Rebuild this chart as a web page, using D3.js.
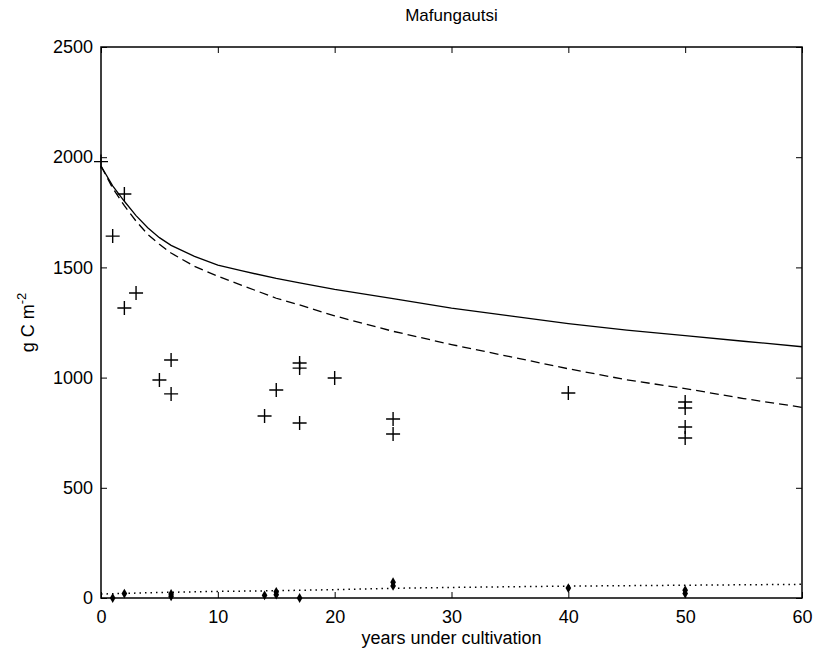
<!DOCTYPE html>
<html>
<head>
<meta charset="utf-8">
<script src="https://cdn.jsdelivr.net/npm/d3@7"></script>
<style>
  body { margin: 0; background: #fff; }
  text { font-family: "Liberation Sans", Arial, sans-serif; fill: #000; }
</style>
</head>
<body>
<div id="chart"></div>
<script>
// observed soil C (crosses)
const obsYears = [0, 1, 2, 2, 3, 5, 6, 6, 14, 15, 17, 17, 17, 20, 25, 25, 40, 50, 50, 50, 50];
const obsCarbon = [1980, 1642, 1833, 1316, 1384, 989, 1080, 926, 826, 944, 1066, 1043, 794, 998, 812, 744, 930, 889, 862, 776, 726];

// small filled markers near the bottom
const dotYears = [1, 2, 6, 6, 14, 15, 15, 17, 25, 25, 40, 50, 50];
const dotCarbon = [0, 20, 8, 18, 12, 15, 28, 0, 55, 72, 45, 20, 35];

// model curves
const modelYears = [0, 1, 2, 3, 4, 5, 6, 8, 10, 12, 15, 17, 20, 25, 30, 35, 40, 45, 50, 55, 60];
const solidCarbon = [1960, 1870, 1800, 1735, 1680, 1635, 1600, 1550, 1510, 1485, 1450, 1430, 1400, 1358, 1315, 1280, 1245, 1215, 1190, 1165, 1140];
const dashedCarbon = [1960, 1860, 1780, 1710, 1650, 1605, 1565, 1505, 1460, 1420, 1360, 1330, 1280, 1210, 1150, 1095, 1040, 990, 950, 905, 865];

const dottedYears = [0, 5, 10, 15, 20, 25, 30, 40, 50, 60];
const dottedCarbon = [18, 25, 30, 33, 38, 44, 48, 54, 58, 62];

const xTicks = [0, 10, 20, 30, 40, 50, 60];
const yTicks = [0, 500, 1000, 1500, 2000, 2500];

const width = 815, height = 656;
const margin = { top: 47, right: 13, bottom: 58, left: 101 };
const innerW = width - margin.left - margin.right;
const innerH = height - margin.top - margin.bottom;
const fontSize = 18;

const svg = d3.select('#chart').append('svg')
    .attr('width', width)
    .attr('height', height);

const plot = svg.append('g')
    .attr('transform', `translate(${margin.left},${margin.top})`);

const xScale = d3.scaleLinear().domain([0, 60]).range([0, innerW]);
const yScale = d3.scaleLinear().domain([0, 2500]).range([innerH, 0]);

// axes, matlab style: ticks pointing inward on all four sides
const tickLen = 6;
const fmt = d3.format('d');
plot.append('g')
    .attr('transform', `translate(0,${innerH})`)
    .call(d3.axisBottom(xScale).tickValues(xTicks).tickFormat(fmt).tickSizeInner(-tickLen).tickSizeOuter(0).tickPadding(12))
    .call(g => g.select('.domain').remove());
plot.append('g')
    .call(d3.axisTop(xScale).tickValues(xTicks).tickSizeInner(-tickLen).tickSizeOuter(0).tickFormat(''))
    .call(g => g.select('.domain').remove());
plot.append('g')
    .call(d3.axisLeft(yScale).tickValues(yTicks).tickFormat(fmt).tickSizeInner(-tickLen).tickSizeOuter(0).tickPadding(8))
    .call(g => g.select('.domain').remove());
plot.append('g')
    .attr('transform', `translate(${innerW},0)`)
    .call(d3.axisRight(yScale).tickValues(yTicks).tickSizeInner(-tickLen).tickSizeOuter(0).tickFormat(''))
    .call(g => g.select('.domain').remove());

plot.selectAll('.tick line').attr('stroke', '#000').attr('stroke-width', 1);
plot.selectAll('.tick text')
    .style('font-size', `${fontSize}px`)
    .style('font-family', '"Liberation Sans", Arial, sans-serif')
    .attr('fill', '#000');

plot.append('rect')
    .attr('width', innerW)
    .attr('height', innerH)
    .attr('fill', 'none')
    .attr('stroke', '#000')
    .attr('stroke-width', 1.5);

// lines
const line = d3.line()
    .x(d => xScale(d[0]))
    .y(d => yScale(d[1]));

plot.append('path')
    .datum(d3.zip(modelYears, solidCarbon))
    .attr('fill', 'none')
    .attr('stroke', '#000')
    .attr('stroke-width', 1.3)
    .attr('d', line);

plot.append('path')
    .datum(d3.zip(modelYears, dashedCarbon))
    .attr('fill', 'none')
    .attr('stroke', '#000')
    .attr('stroke-width', 1.3)
    .attr('stroke-dasharray', '9,5')
    .attr('d', line);

plot.append('path')
    .datum(d3.zip(dottedYears, dottedCarbon))
    .attr('fill', 'none')
    .attr('stroke', '#000')
    .attr('stroke-width', 1.5)
    .attr('stroke-dasharray', '1.5,4')
    .attr('d', line);

// crosses
plot.selectAll('.obs')
    .data(d3.zip(obsYears, obsCarbon))
    .enter()
    .append('path')
    .attr('class', 'obs')
    .attr('transform', d => `translate(${xScale(d[0])},${yScale(d[1])})`)
    .attr('d', 'M-7,0H7M0,-7V7')
    .attr('stroke', '#000')
    .attr('stroke-width', 1.4)
    .attr('fill', 'none');

// small filled markers
plot.selectAll('.dot')
    .data(d3.zip(dotYears, dotCarbon))
    .enter()
    .append('path')
    .attr('class', 'dot')
    .attr('transform', d => `translate(${xScale(d[0])},${yScale(d[1])})`)
    .attr('d', d3.symbol().type(d3.symbolDiamond).size(28))
    .attr('fill', '#000');

// labels
svg.append('text')
    .attr('x', margin.left + innerW / 2)
    .attr('y', 21)
    .attr('text-anchor', 'middle')
    .style('font-size', '17px')
    .text('Mafungautsi');

svg.append('text')
    .attr('x', margin.left + innerW / 2)
    .attr('y', 644)
    .attr('text-anchor', 'middle')
    .style('font-size', `${fontSize}px`)
    .text('years under cultivation');

const yl = svg.append('text')
    .attr('transform', `translate(34,${margin.top + innerH / 2}) rotate(-90)`)
    .attr('text-anchor', 'middle')
    .style('font-size', `${fontSize}px`);
yl.append('tspan').text('g C m');
yl.append('tspan').attr('dy', -8).style('font-size', '13px').text('-2');
</script>
</body>
</html>
